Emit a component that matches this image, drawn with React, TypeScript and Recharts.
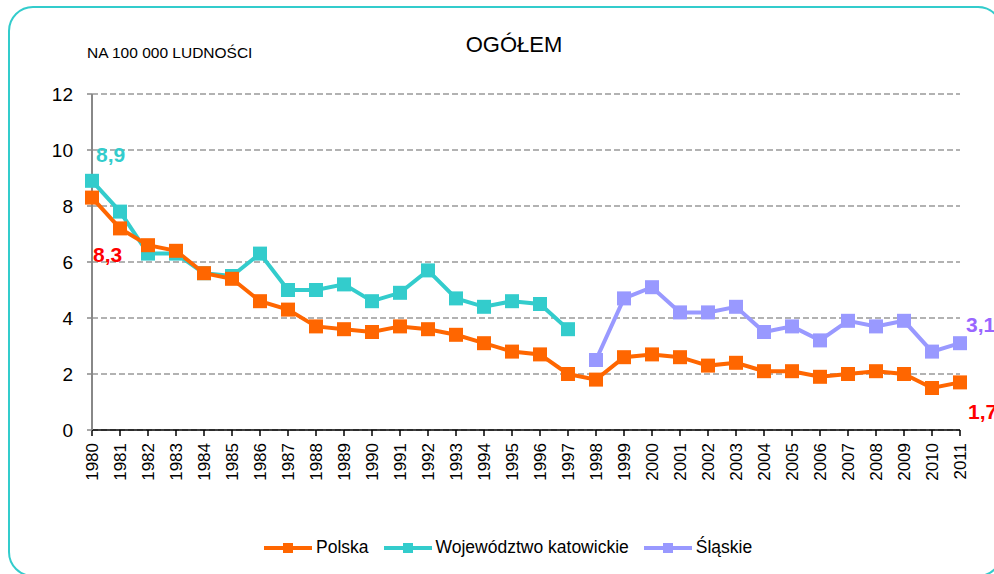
import React from "react";
import {
  LineChart,
  Line,
  CartesianGrid,
  XAxis,
  YAxis,
} from "recharts";

const years = [
  "1980", "1981", "1982", "1983", "1984", "1985", "1986", "1987",
  "1988", "1989", "1990", "1991", "1992", "1993", "1994", "1995",
  "1996", "1997", "1998", "1999", "2000", "2001", "2002", "2003",
  "2004", "2005", "2006", "2007", "2008", "2009", "2010", "2011",
];

const polska = [
  8.3, 7.2, 6.6, 6.4, 5.6, 5.4, 4.6, 4.3, 3.7, 3.6, 3.5, 3.7, 3.6, 3.4, 3.1, 2.8,
  2.7, 2.0, 1.8, 2.6, 2.7, 2.6, 2.3, 2.4, 2.1, 2.1, 1.9, 2.0, 2.1, 2.0, 1.5, 1.7,
];

const katowickie = [
  8.9, 7.8, 6.3, 6.3, 5.6, 5.5, 6.3, 5.0, 5.0, 5.2, 4.6, 4.9, 5.7, 4.7, 4.4, 4.6,
  4.5, 3.6, null, null, null, null, null, null, null, null, null, null, null, null,
  null, null,
];

const slaskie = [
  null, null, null, null, null, null, null, null, null, null, null, null, null,
  null, null, null, null, null, 2.5, 4.7, 5.1, 4.2, 4.2, 4.4, 3.5, 3.7, 3.2, 3.9,
  3.7, 3.9, 2.8, 3.1,
];

const yTicks = [0, 2, 4, 6, 8, 10, 12];

const series = [
  { key: "polska", name: "Polska", color: "#FF6600" },
  { key: "katowickie", name: "Województwo katowickie", color: "#33CCCC" },
  { key: "slaskie", name: "Śląskie", color: "#9999FF" },
];

const data = years.map((year, i) => ({
  year,
  polska: polska[i],
  katowickie: katowickie[i],
  slaskie: slaskie[i],
}));

const FONT = "'Liberation Sans', Arial, sans-serif";

const squareDot = (color: string) => (props: any) => {
  const { cx, cy, index } = props;
  if (cx == null || cy == null || props.value == null) return <g key={index} />;
  return (
    <rect key={index} x={cx - 7} y={cy - 7} width={14} height={14} fill={color} />
  );
};

// value label shown only for one point of a series
const pointLabel =
  (idx: number, color: string, dx: number, dy: number) => (props: any) => {
    const { x, y, index, value } = props;
    if (index !== idx || value == null) return <g key={index} />;
    return (
      <text
        key={index}
        x={x + dx}
        y={y + dy}
        fill={color}
        fontSize={21}
        fontWeight="bold"
        fontFamily={FONT}
      >
        {String(value).replace(".", ",")}
      </text>
    );
  };

const XTick = (props: any) => {
  const { x, y, payload } = props;
  return (
    <text
      transform={`translate(${x + 6},${y + 5}) rotate(-90)`}
      textAnchor="end"
      fontSize={17}
      fill="#000"
      fontFamily={FONT}
    >
      {payload.value}
    </text>
  );
};

export default function App() {
  return (
    <div
      style={{
        position: "fixed",
        left: 0,
        top: 0,
        width: 994,
        height: 574,
        overflow: "hidden",
        background: "#fff",
        fontFamily: FONT,
      }}
    >
      <div
        style={{
          position: "absolute",
          left: 8,
          top: 6,
          width: 995,
          height: 571,
          border: "2px solid #33CCCC",
          borderRadius: 25,
          boxSizing: "border-box",
        }}
      />
      <div
        style={{
          position: "absolute",
          left: 87,
          top: 44,
          fontSize: 15.5,
          color: "#000",
        }}
      >
        NA 100 000 LUDNOŚCI
      </div>
      <div
        style={{
          position: "absolute",
          left: 414,
          width: 200,
          top: 32,
          textAlign: "center",
          fontSize: 22,
          color: "#000",
        }}
      >
        OGÓŁEM
      </div>

      <div style={{ position: "absolute", left: 0, top: 0 }}>
        <LineChart
          width={994}
          height={574}
          data={data}
          margin={{ top: 94, right: 34, left: 0, bottom: 84 }}
        >
          <CartesianGrid
            vertical={false}
            stroke="#999"
            strokeWidth={1.5}
            strokeDasharray="6 3"
          />
          <XAxis
            dataKey="year"
            interval={0}
            height={60}
            tickSize={6}
            tickMargin={2}
            axisLine={{ stroke: "#000", strokeWidth: 1.5 }}
            tickLine={{ stroke: "#000", strokeWidth: 1.5 }}
            tick={<XTick />}
          />
          <YAxis
            width={92}
            domain={[0, 12]}
            ticks={yTicks}
            interval={0}
            tickSize={5}
            tickMargin={14}
            axisLine={{ stroke: "#888", strokeWidth: 2 }}
            tickLine={{ stroke: "#888", strokeWidth: 1.5 }}
            tick={{ fontSize: 19, fill: "#000", fontFamily: FONT }}
          />
          <Line
            dataKey="katowickie"
            stroke="#33CCCC"
            strokeWidth={4}
            dot={squareDot("#33CCCC")}
            activeDot={false}
            isAnimationActive={false}
            label={pointLabel(0, "#33CCCC", 4, -19)}
          />
          <Line
            dataKey="slaskie"
            stroke="#9999FF"
            strokeWidth={4}
            dot={squareDot("#9999FF")}
            activeDot={false}
            isAnimationActive={false}
            label={pointLabel(31, "#9966FF", 6, -11)}
          />
          <Line
            dataKey="polska"
            stroke="#FF6600"
            strokeWidth={4}
            dot={squareDot("#FF6600")}
            activeDot={false}
            isAnimationActive={false}
            label={pointLabel(0, "#FF0000", 1, 64)}
          />
          <Line
            dataKey="polska"
            stroke="none"
            dot={false}
            activeDot={false}
            legendType="none"
            isAnimationActive={false}
            label={pointLabel(31, "#FF0000", 8, 37)}
          />
        </LineChart>
      </div>

      <div
        style={{
          position: "absolute",
          left: 264,
          top: 537,
          display: "flex",
          alignItems: "center",
          fontSize: 17.5,
          color: "#000",
        }}
      >
        {series.map((s) => (
          <div
            key={s.key}
            style={{ display: "flex", alignItems: "center", marginRight: 15 }}
          >
            <svg width={48} height={12} style={{ marginRight: 4 }}>
              <line x1={0} y1={6} x2={48} y2={6} stroke={s.color} strokeWidth={4} />
              <rect x={19} y={1} width={10} height={10} fill={s.color} />
            </svg>
            <span>{s.name}</span>
          </div>
        ))}
      </div>
    </div>
  );
}
